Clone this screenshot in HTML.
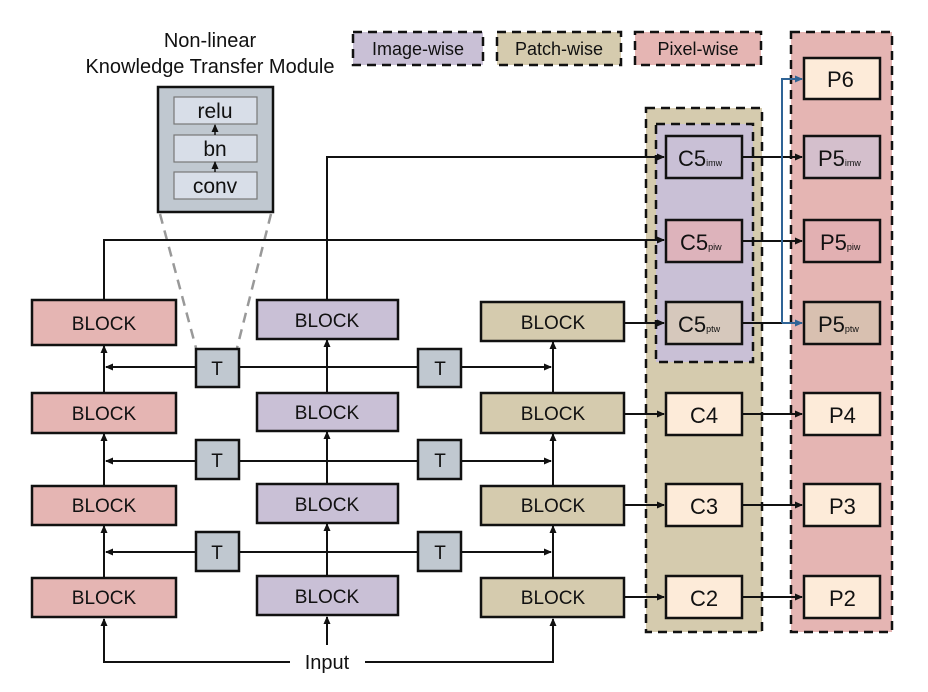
<!DOCTYPE html>
<html><head><meta charset="utf-8"><style>
html,body{margin:0;padding:0;background:#fff;}
svg{display:block;}
text{font-family:"Liberation Sans",sans-serif;fill:#111;}
</style></head><body>
<svg width="928" height="692" viewBox="0 0 928 692" xmlns="http://www.w3.org/2000/svg">
<defs>
<marker id="a" markerWidth="8" markerHeight="8" refX="7" refY="4" orient="auto" markerUnits="userSpaceOnUse"><path d="M0,0.5 L8,4 L0,7.5 z" fill="#111"/></marker>
<marker id="b" markerWidth="8" markerHeight="8" refX="7" refY="4" orient="auto" markerUnits="userSpaceOnUse"><path d="M0,0.5 L8,4 L0,7.5 z" fill="#2f6496"/></marker>
</defs>
<text x="210" y="47" font-size="20" text-anchor="middle">Non-linear</text>
<text x="210" y="73" font-size="20" text-anchor="middle">Knowledge Transfer Module</text>
<rect x="158" y="87" width="115" height="125" fill="#c0c8d0" stroke="#111" stroke-width="2.5"/>
<g fill="#d8dee8" stroke="#777" stroke-width="1.2">
<rect x="174" y="97" width="83" height="27"/><rect x="174" y="135" width="83" height="27"/><rect x="174" y="172" width="83" height="27"/>
</g>
<g font-size="21" text-anchor="middle"><text x="215" y="118">relu</text><text x="215" y="156">bn</text><text x="215" y="193">conv</text></g>
<line x1="215" y1="135" x2="215" y2="125" stroke="#111" stroke-width="1.5" marker-end="url(#a)"/>
<line x1="215" y1="172" x2="215" y2="162" stroke="#111" stroke-width="1.5" marker-end="url(#a)"/>
<g stroke="#999" stroke-width="2.5" stroke-dasharray="10,7"><line x1="160" y1="214" x2="196" y2="348"/><line x1="271" y1="214" x2="237" y2="348"/></g>
<g stroke="#111" stroke-width="2.5" stroke-dasharray="9,6">
<rect x="353" y="32" width="130" height="33" fill="#c9c0d6"/>
<rect x="497" y="32" width="124" height="33" fill="#d5cbae"/>
<rect x="635" y="32" width="126" height="33" fill="#e5b5b3"/>
</g>
<g font-size="18" text-anchor="middle"><text x="418" y="55">Image-wise</text><text x="559" y="55">Patch-wise</text><text x="698" y="55">Pixel-wise</text></g>
<g stroke="#111" stroke-width="2.5" stroke-dasharray="9,6">
<rect x="791" y="32" width="101" height="600" fill="#e5b5b3"/>
<rect x="646" y="108" width="116" height="524" fill="#d5cbae"/>
<rect x="656" y="124" width="97" height="238" fill="#c9c0d6"/>
</g>
<g stroke="#111" stroke-width="2" fill="none">
<polyline points="327,300 327,157 664,157" marker-end="url(#a)"/>
<polyline points="104,300 104,240 664,240" marker-end="url(#a)"/>
<line x1="624" y1="323" x2="664" y2="323" marker-end="url(#a)"/>
<line x1="624" y1="414" x2="664" y2="414" marker-end="url(#a)"/>
<line x1="624" y1="505" x2="664" y2="505" marker-end="url(#a)"/>
<line x1="624" y1="597" x2="664" y2="597" marker-end="url(#a)"/>
<line x1="742" y1="157" x2="802" y2="157" marker-end="url(#a)"/>
<line x1="742" y1="241" x2="802" y2="241" marker-end="url(#a)"/>
<line x1="742" y1="323" x2="782" y2="323"/>
<line x1="742" y1="414" x2="802" y2="414" marker-end="url(#a)"/>
<line x1="742" y1="505" x2="802" y2="505" marker-end="url(#a)"/>
<line x1="742" y1="597" x2="802" y2="597" marker-end="url(#a)"/>
<line x1="104" y1="393" x2="104" y2="346" marker-end="url(#a)"/>
<line x1="104" y1="486" x2="104" y2="434" marker-end="url(#a)"/>
<line x1="104" y1="578" x2="104" y2="526" marker-end="url(#a)"/>
<line x1="327" y1="393" x2="327" y2="340" marker-end="url(#a)"/>
<line x1="327" y1="484" x2="327" y2="432" marker-end="url(#a)"/>
<line x1="327" y1="576" x2="327" y2="524" marker-end="url(#a)"/>
<line x1="553" y1="393" x2="553" y2="342" marker-end="url(#a)"/>
<line x1="553" y1="486" x2="553" y2="434" marker-end="url(#a)"/>
<line x1="553" y1="578" x2="553" y2="526" marker-end="url(#a)"/>
<line x1="327" y1="367" x2="106" y2="367" marker-end="url(#a)"/><line x1="327" y1="367" x2="551" y2="367" marker-end="url(#a)"/>
<line x1="327" y1="461" x2="106" y2="461" marker-end="url(#a)"/><line x1="327" y1="461" x2="551" y2="461" marker-end="url(#a)"/>
<line x1="327" y1="552" x2="106" y2="552" marker-end="url(#a)"/><line x1="327" y1="552" x2="551" y2="552" marker-end="url(#a)"/>
<polyline points="290,662 104,662 104,619" marker-end="url(#a)"/>
<polyline points="365,662 553,662 553,619" marker-end="url(#a)"/>
<line x1="327" y1="645" x2="327" y2="617" marker-end="url(#a)"/>
</g>
<g stroke="#2f6496" stroke-width="2" fill="none">
<polyline points="782,323 782,79 802,79" marker-end="url(#b)"/>
<line x1="782" y1="323" x2="802" y2="323" marker-end="url(#b)"/>
</g>
<text x="327" y="669" font-size="20" text-anchor="middle">Input</text>
<g stroke="#111" stroke-width="2.5">
<rect x="32" y="300" width="144" height="45" fill="#e5b5b3"/>
<rect x="32" y="393" width="144" height="40" fill="#e5b5b3"/>
<rect x="32" y="486" width="144" height="39" fill="#e5b5b3"/>
<rect x="32" y="578" width="144" height="39" fill="#e5b5b3"/>
<rect x="257" y="300" width="141" height="39" fill="#c9c0d6"/>
<rect x="257" y="393" width="141" height="38" fill="#c9c0d6"/>
<rect x="257" y="484" width="141" height="39" fill="#c9c0d6"/>
<rect x="257" y="576" width="141" height="39" fill="#c9c0d6"/>
<rect x="481" y="302" width="143" height="39" fill="#d5cbae"/>
<rect x="481" y="393" width="143" height="40" fill="#d5cbae"/>
<rect x="481" y="486" width="143" height="39" fill="#d5cbae"/>
<rect x="481" y="578" width="143" height="39" fill="#d5cbae"/>
<rect x="196" y="349" width="43" height="38" fill="#c0c8d0"/><rect x="418" y="349" width="43" height="38" fill="#c0c8d0"/>
<rect x="196" y="440" width="43" height="39" fill="#c0c8d0"/><rect x="418" y="440" width="43" height="39" fill="#c0c8d0"/>
<rect x="196" y="532" width="43" height="39" fill="#c0c8d0"/><rect x="418" y="532" width="43" height="39" fill="#c0c8d0"/>
<rect x="666" y="136" width="76" height="42" fill="#c9c0d6"/>
<rect x="666" y="220" width="76" height="42" fill="#ddb3bb"/>
<rect x="666" y="302" width="76" height="42" fill="#d6c8bc"/>
<rect x="666" y="393" width="76" height="42" fill="#fdebd9"/>
<rect x="666" y="484" width="76" height="42" fill="#fdebd9"/>
<rect x="666" y="576" width="76" height="42" fill="#fdebd9"/>
<rect x="804" y="58" width="76" height="41" fill="#fdebd9"/>
<rect x="804" y="136" width="76" height="42" fill="#d4bfcc"/>
<rect x="804" y="220" width="76" height="42" fill="#e2b0b2"/>
<rect x="804" y="302" width="76" height="42" fill="#d8c0b0"/>
<rect x="804" y="393" width="76" height="42" fill="#fdebd9"/>
<rect x="804" y="484" width="76" height="42" fill="#fdebd9"/>
<rect x="804" y="576" width="76" height="42" fill="#fdebd9"/>
</g>
<g font-size="19" text-anchor="middle">
<text x="104" y="330">BLOCK</text><text x="104" y="420">BLOCK</text><text x="104" y="512">BLOCK</text><text x="104" y="604">BLOCK</text>
<text x="327" y="327">BLOCK</text><text x="327" y="419">BLOCK</text><text x="327" y="511">BLOCK</text><text x="327" y="603">BLOCK</text>
<text x="553" y="329">BLOCK</text><text x="553" y="420">BLOCK</text><text x="553" y="512">BLOCK</text><text x="553" y="604">BLOCK</text>
<text x="217" y="375">T</text><text x="440" y="375">T</text>
<text x="217" y="467">T</text><text x="440" y="467">T</text>
<text x="217" y="559">T</text><text x="440" y="559">T</text>
</g>
<g font-size="22">
<text x="678" y="166">C5<tspan font-size="9">imw</tspan></text>
<text x="680" y="250">C5<tspan font-size="9">piw</tspan></text>
<text x="678" y="332">C5<tspan font-size="9">ptw</tspan></text>
<text x="690" y="423">C4</text><text x="690" y="514">C3</text><text x="690" y="606">C2</text>
<text x="827" y="87">P6</text>
<text x="818" y="166">P5<tspan font-size="9">imw</tspan></text>
<text x="820" y="250">P5<tspan font-size="9">piw</tspan></text>
<text x="818" y="332">P5<tspan font-size="9">ptw</tspan></text>
<text x="829" y="423">P4</text><text x="829" y="514">P3</text><text x="829" y="606">P2</text>
</g>
</svg>
</body></html>
